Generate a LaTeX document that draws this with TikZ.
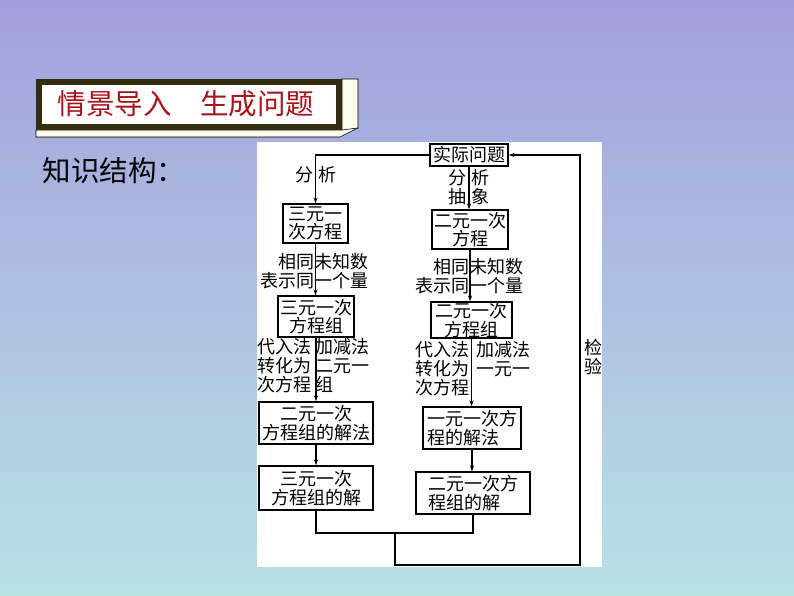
\documentclass[tikz,border=0pt]{standalone}
\usepackage{fontspec}
\usepackage{xcolor}
\usepackage{tikz}
\usetikzlibrary{arrows.meta}
\newfontfamily\cjk{Noto Sans CJK SC}
\definecolor{bgtop}{HTML}{A39FDD}
\definecolor{bgmid}{HTML}{A9C0E0}
\definecolor{bgbot}{HTML}{B8E2E4}
\definecolor{titlered}{HTML}{A8141C}
\definecolor{framedark}{HTML}{332E10}
\definecolor{bevelcream}{HTML}{FCFAEA}
\tikzset{
  box/.style={draw,line width=1.1pt,fill=white,inner sep=0pt,align=center,font=\cjk\fontsize{18}{18.5}\selectfont},
  lbl/.style={inner sep=0pt,font=\cjk\fontsize{18}{19}\selectfont},
  link/.style={line width=1.1pt},
  arr/.style={link,-{Stealth[length=6pt,width=4pt]}}
}

\begin{document}
\begin{tikzpicture}[x=1pt,y=-1pt]
\useasboundingbox (0,0) rectangle (794,596);
\shade[top color=bgtop,middle color=bgmid,bottom color=bgbot] (0,0) rectangle (794,596);
% banner
\filldraw[fill=bevelcream,draw=black,line width=0.6pt] (36,130) -- (342,130) -- (342,79) -- (358,79) -- (358,128) -- (340,137) -- (36,137) -- cycle;
\draw[black,line width=0.6pt] (342,130) -- (358,128);
\filldraw[fill=white,draw=framedark,line width=6pt] (39,82) rectangle (339,127);
\node at (186,104) (title) [font=\cjk\fontsize{28.5}{30}\selectfont,text=titlered] {情景导入　生成问题};
\node at (114,171) (knowledge) [font=\cjk\fontsize{28.5}{30}\selectfont] {知识结构：};
% panel
\fill[white] (257,142) rectangle (602,567);
% boxes
\node at (469,155) (q) [box,minimum width=78pt,minimum height=22pt] {实际问题};
\node at (315.5,223.5) (a1) [box,minimum width=65pt,minimum height=39pt] {三元一\\次方程};
\node at (316,316.5) (a2) [box,minimum width=76pt,minimum height=41pt] {三元一次\\方程组};
\node at (316,423) (a3) [box,minimum width=114pt,minimum height=42pt] {二元一次\\方程组的解法};
\node at (316,488) (a4) [box,minimum width=114pt,minimum height=44pt] {三元一次\\方程组的解};
\node at (470,229.5) (b1) [box,minimum width=76pt,minimum height=39pt] {二元一次\\方程};
\node at (471.5,320) (b2) [box,minimum width=81pt,minimum height=36pt] {二元一次\\方程组};
\node at (472,428) (b3) [box,align=left,minimum width=98pt,minimum height=42pt] {一元一次方\\程的解法};
\node at (473,493) (b4) [box,align=left,minimum width=114pt,minimum height=42pt] {二元一次方\\程组的解};
% labels
\node at (316,175) (la1) [lbl] {分\hspace{5pt}析};
\node at (469,187) (lb1) [lbl,align=center] {分\hspace{5pt}析\\抽\hspace{5pt}象};
\node at (369,271) (la2) [lbl,anchor=east,align=right] {相同未知数\\表示同一个量};
\node at (524,276) (lb2) [lbl,anchor=east,align=right] {相同未知数\\表示同一个量};
\node at (312,338) (la3) [lbl,anchor=north east,align=left] {代入法\\转化为\\次方程};
\node at (315,338) (la4) [lbl,anchor=north west,align=left] {加减法\\二元一\\组};
\node at (470,341) (lb3) [lbl,anchor=north east,align=left] {代入法\\转化为\\次方程};
\node at (476,341) (lb4) [lbl,anchor=north west,align=left] {加减法\\一元一};
\node at (593,357) (check) [lbl,align=center] {检\\验};
% connectors
\draw[arr] (q.west) -| (a1.north);
\draw[arr] (a1.south) -- (a1.south |- a2.north);
\draw[arr] (a2.south) -- (a2.south |- a3.north);
\draw[arr] (a3.south) -- (a3.south |- a4.north);
\draw[arr] (q.south) -- (q.south |- b1.north);
\draw[arr] (b1.south) -- (b1.south |- b2.north);
\draw[arr] (b2.south) -- (b2.south |- b3.north);
\draw[arr] (b3.south) -- (b3.south |- b4.north);
\coordinate (join) at (395,533);
\coordinate (back) at (580,565);
\draw[link] (a4.south) |- (join) -| (b4.south);
\draw[arr] (join) |- (back) |- (q.east);
\end{tikzpicture}
\end{document}
